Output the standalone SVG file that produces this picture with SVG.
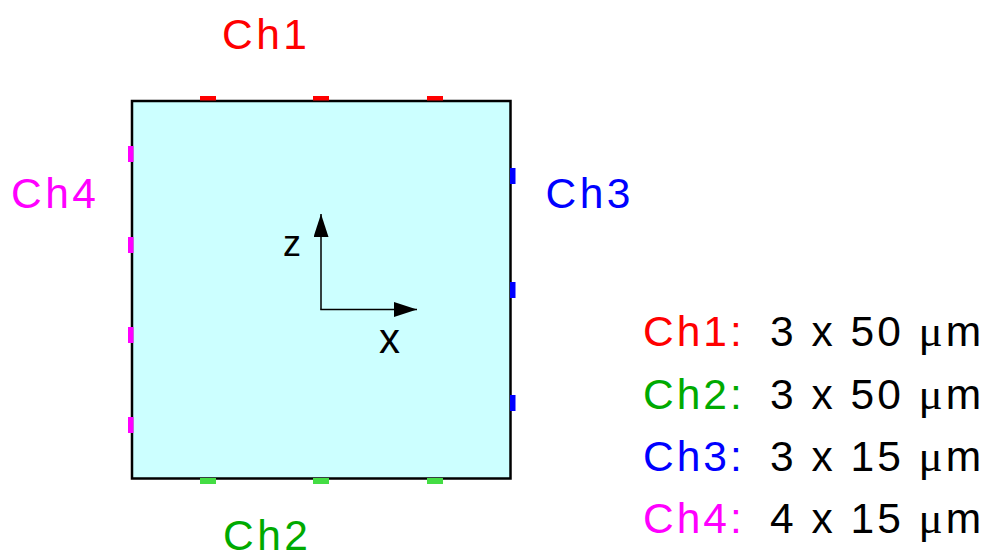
<svg xmlns="http://www.w3.org/2000/svg" width="985" height="559" viewBox="0 0 985 559">
<defs>
<marker id="ah" markerUnits="userSpaceOnUse" markerWidth="23" markerHeight="15" refX="23" refY="7.5" orient="auto">
<path d="M0,0 L23,7.5 L0,15 z" fill="#000"/>
</marker>
<style>
text{font-family:"Liberation Sans",Arial,sans-serif;font-size:42.5px;letter-spacing:3px}
.lbl{letter-spacing:3.5px}
.r{fill:#ff0000}.g{fill:#00aa00}.b{fill:#0000ff}.m{fill:#ff00ff}.k{fill:#000}
.mr{fill:#ff0000}.mg{fill:#44dd44}.mb{fill:#0000ff}.mm{fill:#ff00ff}
.mu{font-family:"Liberation Serif","Times New Roman",serif;font-size:45px}
</style>
</defs>
<rect width="985" height="559" fill="#fff"/>
<g id="sample">
<rect x="132" y="101" width="378.5" height="377.5" fill="#ccffff" stroke="#000" stroke-width="2.5"/>
</g>
<g id="ch1-electrodes">
<rect class="mr" x="200" y="96" width="16" height="4.5"/>
<rect class="mr" x="313" y="96" width="16" height="4.5"/>
<rect class="mr" x="427" y="96" width="16" height="4.5"/>
</g>
<g id="ch2-electrodes">
<rect class="mg" x="200" y="478" width="16" height="6"/>
<rect class="mg" x="313" y="478" width="16" height="6"/>
<rect class="mg" x="427" y="478" width="16" height="6"/>
</g>
<g id="ch3-electrodes">
<rect class="mb" x="510" y="168" width="5.5" height="16"/>
<rect class="mb" x="510" y="282" width="5.5" height="16"/>
<rect class="mb" x="510" y="395" width="5.5" height="16"/>
</g>
<g id="ch4-electrodes">
<rect class="mm" x="128" y="146" width="5.5" height="16"/>
<rect class="mm" x="128" y="237" width="5.5" height="16"/>
<rect class="mm" x="128" y="327" width="5.5" height="16"/>
<rect class="mm" x="128" y="417" width="5.5" height="16"/>
</g>
<g id="axes" fill="none" stroke="#000" stroke-width="1.5">
<line x1="321" y1="309.5" x2="321" y2="214" marker-end="url(#ah)"/>
<line x1="320.25" y1="309.5" x2="417" y2="309.5" marker-end="url(#ah)"/>
</g>
<g id="labels">
<text class="k" x="283" y="256" style="font-size:36px;letter-spacing:0">z</text>
<text class="k" x="379" y="353" style="font-size:42px;letter-spacing:0">x</text>
<text class="r lbl" x="222" y="49">Ch1</text>
<text class="g lbl" x="223" y="550">Ch2</text>
<text class="b lbl" x="545.5" y="208">Ch3</text>
<text class="m lbl" x="11" y="208">Ch4</text>
</g>
<g id="legend">
<text x="643" y="346"><tspan class="r">Ch1:</tspan><tspan class="k" x="770">3 x 50 </tspan><tspan class="k mu">μ</tspan><tspan class="k">m</tspan></text>
<text x="643" y="408.5"><tspan class="g">Ch2:</tspan><tspan class="k" x="770">3 x 50 </tspan><tspan class="k mu">μ</tspan><tspan class="k">m</tspan></text>
<text x="643" y="471"><tspan class="b">Ch3:</tspan><tspan class="k" x="770">3 x 15 </tspan><tspan class="k mu">μ</tspan><tspan class="k">m</tspan></text>
<text x="643" y="533"><tspan class="m">Ch4:</tspan><tspan class="k" x="770">4 x 15 </tspan><tspan class="k mu">μ</tspan><tspan class="k">m</tspan></text>
</g>
</svg>
